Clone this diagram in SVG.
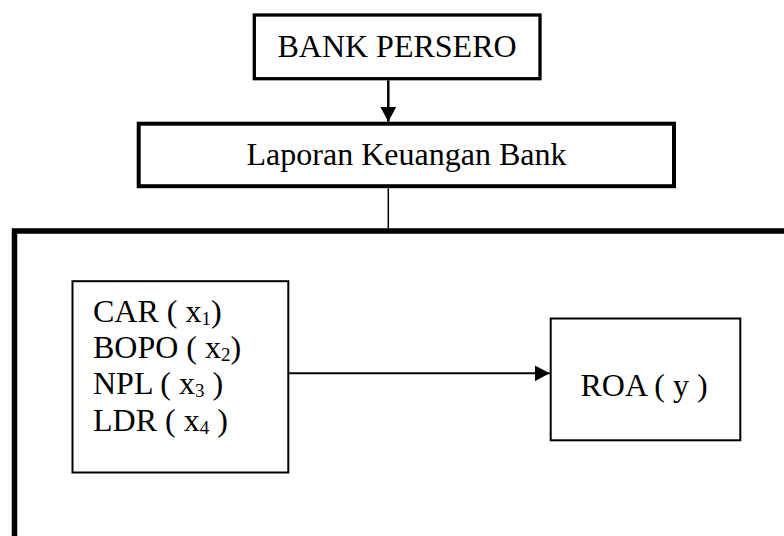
<svg xmlns="http://www.w3.org/2000/svg" width="784" height="536" viewBox="0 0 784 536">
<defs>
<style>
text{font-family:"Liberation Serif","Times New Roman",serif;font-size:32px;fill:#000}
.box{fill:#fff;stroke:#000}
.sub{font-size:19px}
.ln{stroke:#000;fill:none}
</style>
<marker id="ah" markerWidth="16" markerHeight="16" refX="15" refY="8" orient="auto" markerUnits="userSpaceOnUse">
<path d="M0,0 L15,8 L0,16 Z" fill="#000"/>
</marker>
</defs>
<rect width="784" height="536" fill="#fff"/>
<g id="frame">
<path class="ln" d="M14.5,545 V231 H800" stroke-width="5.5"/>
</g>
<g id="bank-persero">
<rect class="box" x="254.3" y="15" width="285.7" height="63.7" stroke-width="3.3"/>
<text x="397" y="57.3" text-anchor="middle">BANK PERSERO</text>
</g>
<g id="laporan">
<rect class="box" x="138.7" y="123.7" width="535.3" height="62.5" stroke-width="4"/>
<text x="406.5" y="165" text-anchor="middle">Laporan Keuangan Bank</text>
</g>
<g id="variabel-x">
<rect class="box" x="72.5" y="281.2" width="215.8" height="191.3" stroke-width="2"/>
<text x="93" y="321.7">CAR ( x<tspan class="sub" dy="3">1</tspan><tspan dy="-3">)</tspan></text>
<text x="93" y="357.7">BOPO ( x<tspan class="sub" dy="3">2</tspan><tspan dy="-3">)</tspan></text>
<text x="93" y="393.5">NPL ( x<tspan class="sub" dy="3">3</tspan><tspan dy="-3"> )</tspan></text>
<text x="93" y="431">LDR ( x<tspan class="sub" dy="3">4</tspan><tspan dy="-3"> )</tspan></text>
</g>
<g id="roa">
<rect class="box" x="550.7" y="318.5" width="189.6" height="121.8" stroke-width="2"/>
<text x="644" y="395.7" text-anchor="middle">ROA ( y )</text>
</g>
<g id="connectors">
<line class="ln" x1="388.3" y1="80.3" x2="388.3" y2="121.7" stroke-width="2.5" marker-end="url(#ah)"/>
<line class="ln" x1="388.3" y1="188.2" x2="388.3" y2="229" stroke-width="1.5"/>
<line class="ln" x1="289.3" y1="373.3" x2="549.7" y2="373.3" stroke-width="2" marker-end="url(#ah)"/>
</g>
</svg>
